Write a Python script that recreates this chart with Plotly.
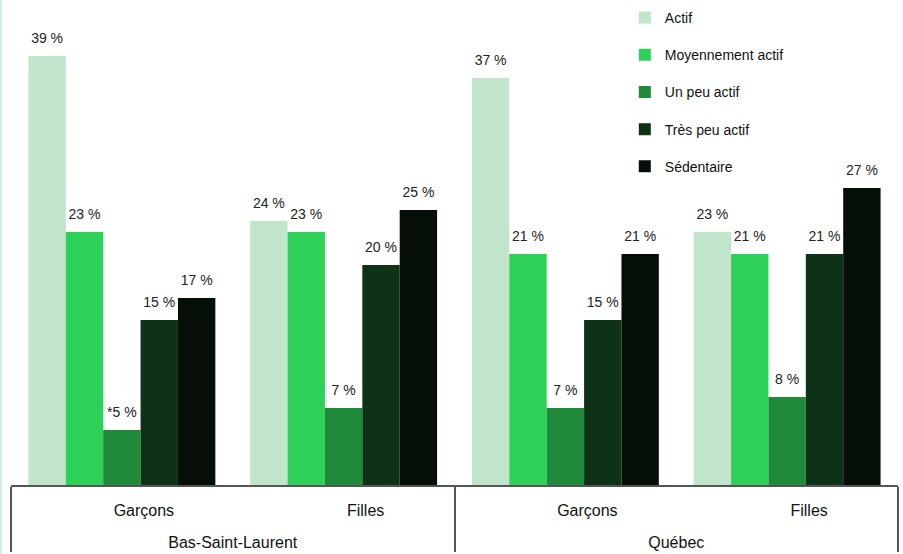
import plotly.graph_objects as go

# Categories (two-level axis: region / sex)
regions = ["Bas-Saint-Laurent", "Bas-Saint-Laurent", "Québec", "Québec"]
sexes = ["Garçons", "Filles", "Garçons", "Filles"]

# Activity levels (series) and their colours
series_names = ["Actif", "Moyennement actif", "Un peu actif", "Très peu actif", "Sédentaire"]
series_colors = ["#C1E5CB", "#2ED157", "#1F8A3A", "#0E3216", "#050F08"]

# Percentages per series, in category order
actif = [39, 24, 37, 23]
moyennement_actif = [23, 23, 21, 21]
un_peu_actif = [5, 7, 7, 8]
tres_peu_actif = [15, 20, 15, 21]
sedentaire = [17, 25, 21, 27]

# Estimates to interpret with caution (flagged with an asterisk)
flag_un_peu_actif = [True, False, False, False]

series_values = [actif, moyennement_actif, un_peu_actif, tres_peu_actif, sedentaire]
series_flags = [[False] * 4, [False] * 4, flag_un_peu_actif, [False] * 4, [False] * 4]

FONT = "Liberation Sans, Arial, sans-serif"
LABEL_PAD = 0.6  # small lift of the value labels above each bar

fig = go.Figure()
x_cats = [regions, sexes]

for i, (name, color, vals, flags) in enumerate(
        zip(series_names, series_colors, series_values, series_flags)):
    group = str(i)
    fig.add_trace(go.Bar(
        x=x_cats, y=vals, name=name, marker=dict(color=color, line=dict(width=0)),
        offsetgroup=group, legendgroup=group, hoverinfo="skip",
    ))
    labels = [("*" if f else "") + f"{v} %" for v, f in zip(vals, flags)]
    fig.add_trace(go.Bar(
        x=x_cats, y=[LABEL_PAD] * len(vals), base=vals,
        marker=dict(color="rgba(0,0,0,0)", line=dict(width=0)),
        offsetgroup=group, legendgroup=group, showlegend=False, hoverinfo="skip",
        text=labels, textposition="outside", cliponaxis=False,
        textfont=dict(family=FONT, size=14, color="#222222"),
    ))

# extra blank line under the sex labels leaves room before the region row
sex_label_alias = {s: s + "<br><span style='font-size:24px'> </span>" for s in set(sexes)}

fig.update_layout(
    width=903, height=554,
    margin=dict(l=11, r=5, t=0, b=69),
    paper_bgcolor="white", plot_bgcolor="white",
    barmode="group", bargap=0.157, bargroupgap=0,
    font=dict(family=FONT, size=16, color="#111111"),
    showlegend=True,
    legend=dict(
        x=0.692, y=0.996, xanchor="left", yanchor="top",
        font=dict(family=FONT, size=14, color="#111111"),
        traceorder="grouped", tracegroupgap=16,
        bgcolor="rgba(0,0,0,0)",
    ),
    xaxis=dict(
        type="multicategory", range=[-0.5, 3.5],
        showline=True, linecolor="#555555", linewidth=2,
        showdividers=True, dividercolor="#555555", dividerwidth=2,
        ticks="", showgrid=False,
        ticklabelstandoff=10, ticklabelshift=22,
        labelalias=sex_label_alias,
        tickfont=dict(family=FONT, size=16, color="#111111"),
    ),
    yaxis=dict(range=[0, 44.1], visible=False, showgrid=False, zeroline=False),
    shapes=[dict(type="line", xref="paper", yref="paper",
                 x0=-10.5 / 887, x1=-10.5 / 887, y0=-0.2, y1=1,
                 line=dict(color="#C8EBD2", width=2))],
)

fig.write_html("out.html")
